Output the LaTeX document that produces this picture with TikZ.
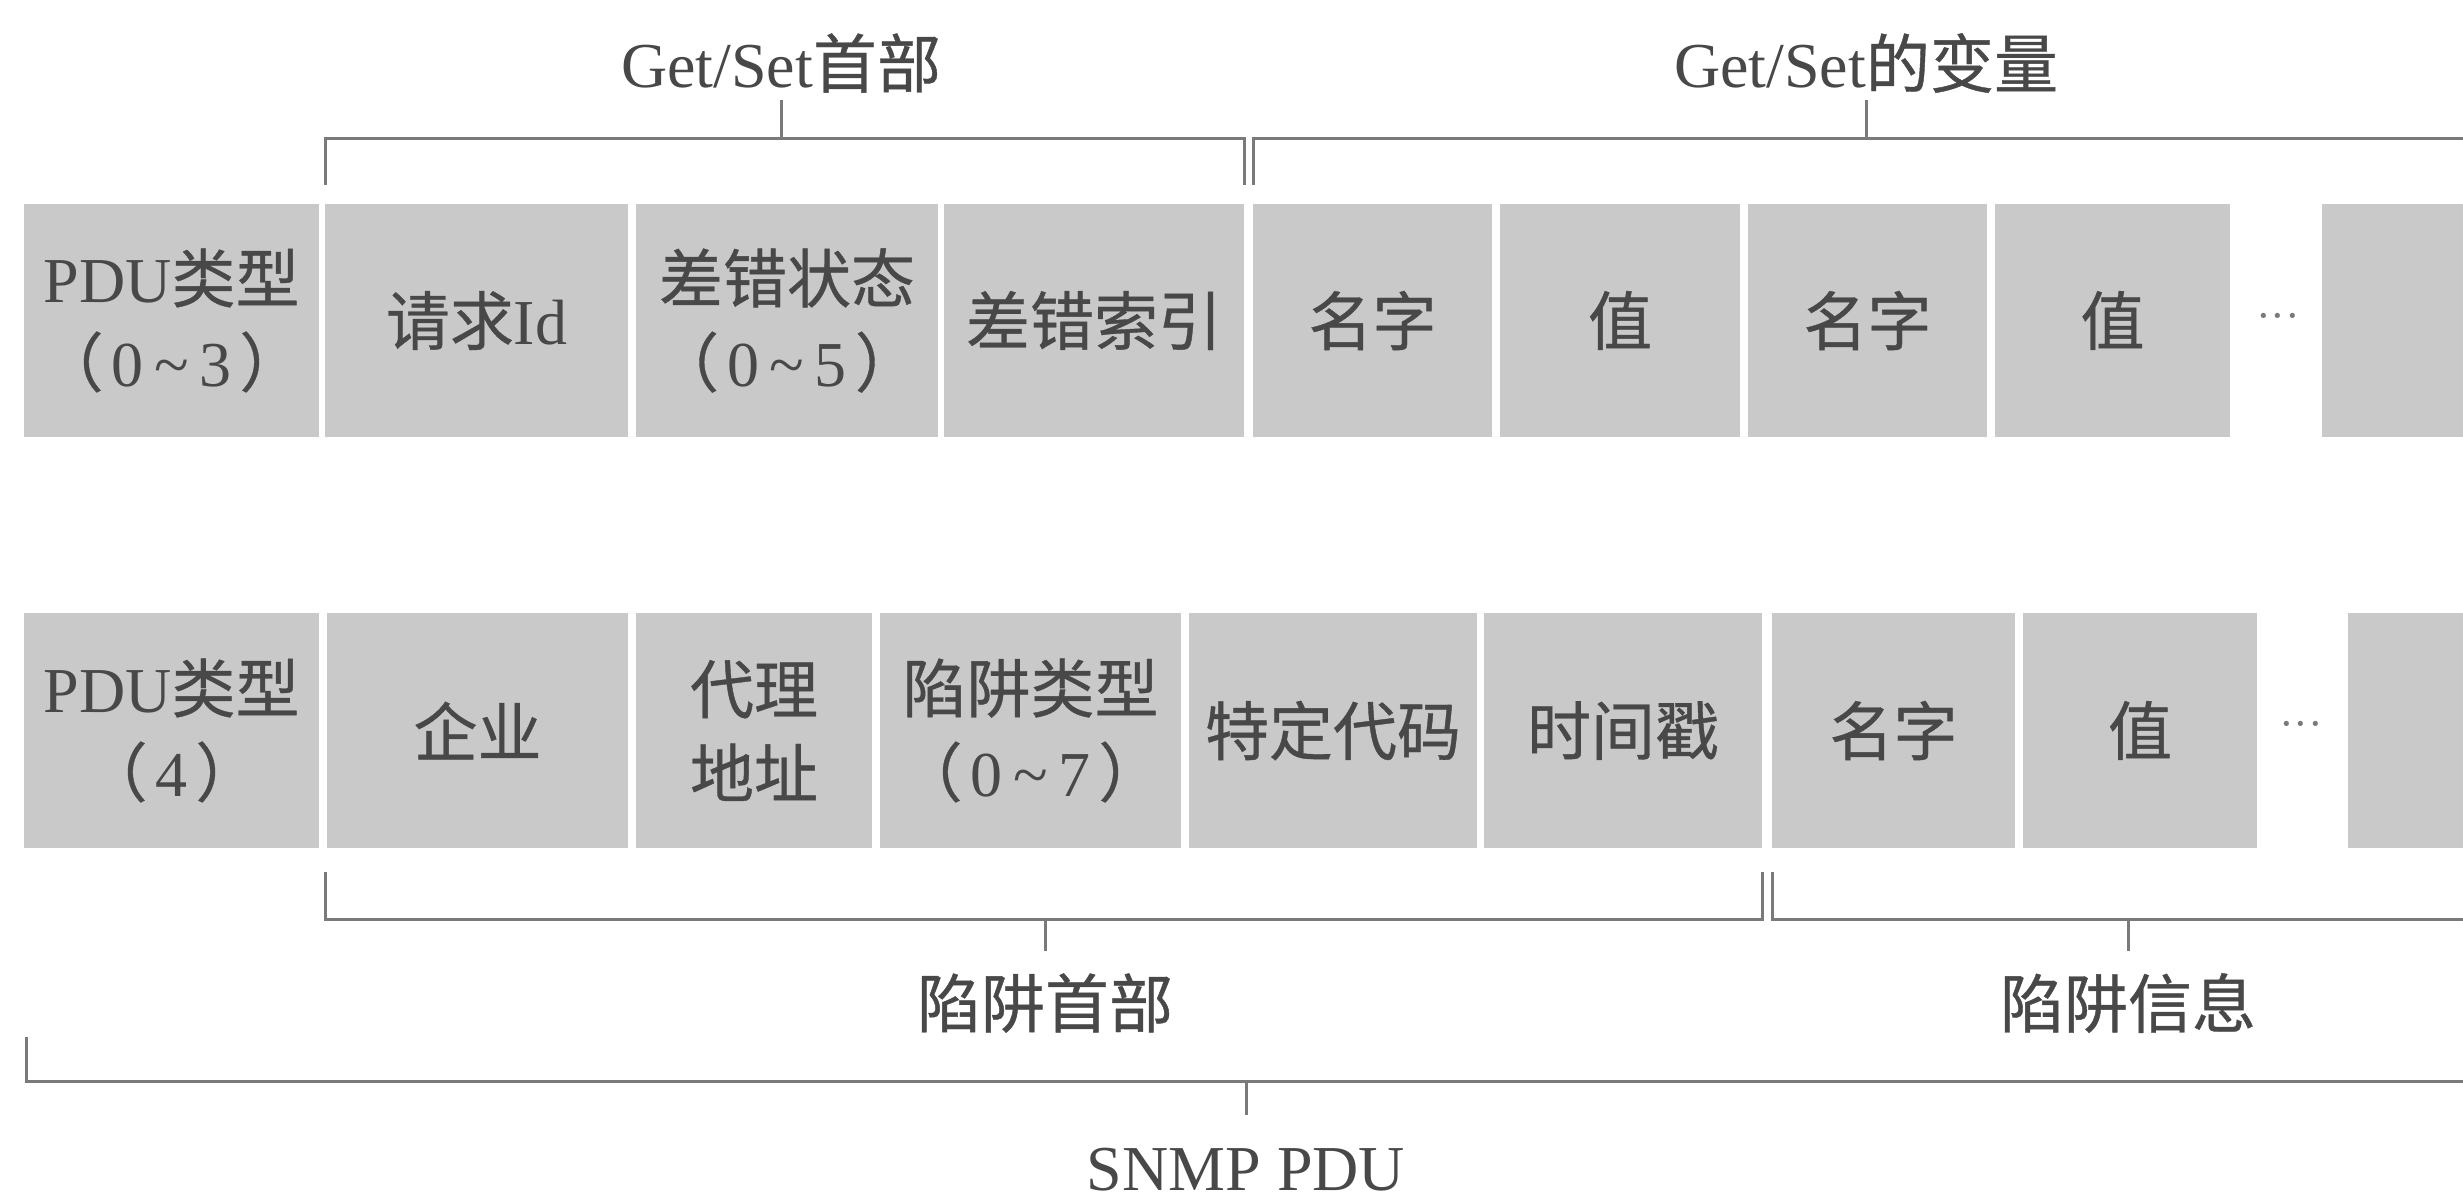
\documentclass[tikz,border=0pt]{standalone}
\usepackage{fontspec}
\setmainfont{Liberation Serif}
\newfontfamily\cjk{Noto Sans CJK SC}[FakeBold=0.6]
\definecolor{boxgray}{HTML}{C9C9C9}
\definecolor{txtgray}{HTML}{484848}
\definecolor{lngray}{HTML}{7A7A7A}
\newcommand\tld{\,\textasciitilde\,}
\newcommand\lp{{\cjk （}\kern2pt}
\newcommand\rp{\kern2pt{\cjk ）}}
\newcommand\cellbox[6]{\node[cell,minimum width={(#3-#2)*0.25pt},minimum height={(#5-#4)*0.25pt}] (#1) at ({(#2+#3)/2},{(#4+#5)/2}) {#6};}
\tikzset{
  cell/.style={fill=boxgray, draw=none, inner sep=0pt, text=txtgray, align=center, font=\fontsize{16}{21}\selectfont},
  lab/.style={text=txtgray, inner sep=0pt, font=\fontsize{16}{21}\selectfont},
  brk/.style={draw=lngray, line width=0.75pt},
  dots/.style={text=lngray, inner sep=0pt, font=\fontsize{11}{12}\selectfont}
}
\begin{document}
\begin{tikzpicture}[x=0.25pt,y=-0.25pt]
\useasboundingbox[fill=white] (0,0) rectangle (2463,1202);
% top row
\cellbox{t1}{24}{319}{204}{437}{PDU{\cjk 类型}\\\lp 0\tld3\rp}
\cellbox{t2}{325}{628}{204}{437}{{\cjk 请求}Id}
\cellbox{t3}{636}{938}{204}{437}{{\cjk 差错状态}\\\lp 0\tld5\rp}
\cellbox{t4}{944}{1244}{204}{437}{\cjk 差错索引}
\cellbox{t5}{1253}{1492}{204}{437}{\cjk 名字}
\cellbox{t6}{1500}{1740}{204}{437}{\cjk 值}
\cellbox{t7}{1748}{1987}{204}{437}{\cjk 名字}
\cellbox{t8}{1995}{2230}{204}{437}{\cjk 值}
\node[dots] (td) at (2278,322) {···};
\cellbox{t9}{2322}{2463}{204}{437}{}
% bottom row
\cellbox{b1}{24}{319}{613}{848}{PDU{\cjk 类型}\\\lp 4\rp}
\cellbox{b2}{327}{628}{613}{848}{\cjk 企业}
\cellbox{b3}{636}{872}{613}{848}{{\cjk 代理}\\{\cjk 地址}}
\cellbox{b4}{880}{1181}{613}{848}{{\cjk 陷阱类型}\\\lp 0\tld7\rp}
\cellbox{b5}{1189}{1477}{613}{848}{\cjk 特定代码}
\cellbox{b6}{1484}{1762}{613}{848}{\cjk 时间戳}
\cellbox{b7}{1772}{2015}{613}{848}{\cjk 名字}
\cellbox{b8}{2023}{2257}{613}{848}{\cjk 值}
\node[dots] (bd) at (2301,730) {···};
\cellbox{b9}{2348}{2463}{613}{848}{}
% top brackets
\coordinate (g1l) at (325,185);
\coordinate (g1r) at (1244,185);
\coordinate (g1m) at (781,138);
\coordinate (g2l) at (1253,185);
\coordinate (g2r) at (2463,138);
\coordinate (g2m) at (1866,138);
\draw[brk] (g1l) -- ++(0,-47) -| (g1r);
\draw[brk] (g2l) |- (g2r);
\node[lab] (lg1) at (781,63) {Get/Set{\cjk 首部}};
\node[lab] (lg2) at (1866,63) {Get/Set{\cjk 的变量}};
\draw[brk] (g1m) -- ++(0,-38);
\draw[brk] (g2m) -- ++(0,-38);
% bottom brackets
\coordinate (h1l) at (325,872);
\coordinate (h1r) at (1762,872);
\coordinate (h1m) at (1045,919);
\coordinate (h2l) at (1772,872);
\coordinate (h2r) at (2463,919);
\coordinate (h2m) at (2128,919);
\draw[brk] (h1l) -- ++(0,47) -| (h1r);
\draw[brk] (h2l) |- (h2r);
\draw[brk] (h1m) -- ++(0,32);
\draw[brk] (h2m) -- ++(0,32);
\node[lab] (lh1) at (1045,1003) {\cjk 陷阱首部};
\node[lab] (lh2) at (2128,1003) {\cjk 陷阱信息};
% SNMP PDU bracket
\coordinate (sl) at (26,1037);
\coordinate (sr) at (2463,1081);
\coordinate (sm) at (1246,1081);
\draw[brk] (sl) |- (sr);
\draw[brk] (sm) -- ++(0,34);
\node[lab] (ls) at (1246,1170) {SNMP PDU};
\end{tikzpicture}
\end{document}
